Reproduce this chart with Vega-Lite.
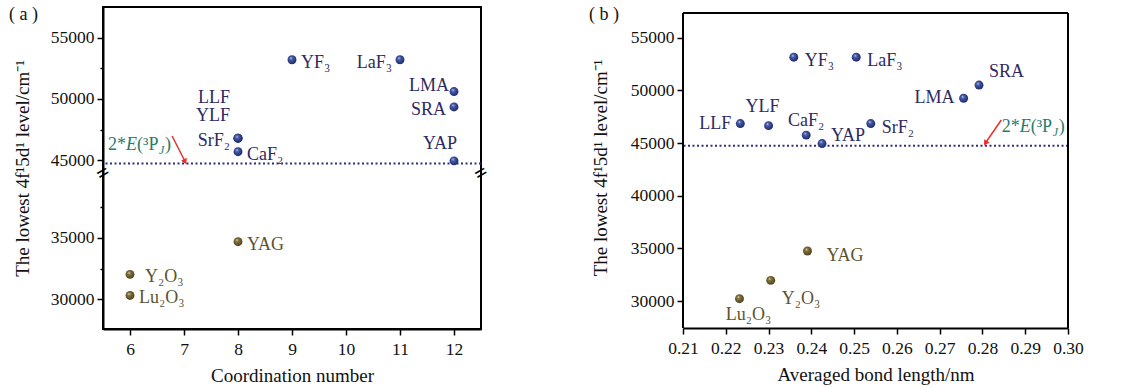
{
  "$schema": "https://vega.github.io/schema/vega-lite/v6.json",
  "padding": {"left": 8, "top": 5, "right": 5, "bottom": 3},
  "background": "white",
  "config": {
    "font": "Liberation Serif",
    "view": {"stroke": "black", "strokeWidth": 2},
    "axis": {"domainColor": "black", "domainWidth": 2, "tickColor": "black", "tickWidth": 1.5, "labelFont": "Liberation Serif", "labelFontSize": 17.5, "labelColor": "#111", "titleFont": "Liberation Serif", "titleFontSize": 19, "titleFontWeight": "normal", "titleColor": "#111", "grid": false, "labelPadding": 3, "labelOverlap": false, "labelBound": false, "labelFlush": false},
    "axisX": {"labelPadding": 5},
    "text": {"font": "Liberation Serif", "fontSize": 18}
  },
  "datasets": {
    "a": [
      {"name": "YF₃", "cn": 9, "e": 53200, "grp": "F"},
      {"name": "LaF₃", "cn": 11, "e": 53200, "grp": "F"},
      {"name": "LMA", "cn": 12, "e": 50600, "grp": "F"},
      {"name": "SRA", "cn": 12, "e": 49350, "grp": "F"},
      {"name": "YAP", "cn": 12, "e": 44950, "grp": "F"},
      {"name": "LLF", "cn": 8, "e": 46800, "grp": "F"},
      {"name": "YLF", "cn": 8, "e": 46800, "grp": "F"},
      {"name": "SrF₂", "cn": 8, "e": 46800, "grp": "F"},
      {"name": "CaF₂", "cn": 8, "e": 45700, "grp": "F"},
      {"name": "YAG", "cn": 8, "e": 34680, "grp": "O"},
      {"name": "Y₂O₃", "cn": 6, "e": 32030, "grp": "O"},
      {"name": "Lu₂O₃", "cn": 6, "e": 30320, "grp": "O"}
    ],
    "b": [
      {"name": "YF₃", "bl": 0.2359, "e": 53150, "grp": "F"},
      {"name": "LaF₃", "bl": 0.2505, "e": 53150, "grp": "F"},
      {"name": "SRA", "bl": 0.2792, "e": 50500, "grp": "F"},
      {"name": "LMA", "bl": 0.2756, "e": 49250, "grp": "F"},
      {"name": "LLF", "bl": 0.2234, "e": 46850, "grp": "F"},
      {"name": "YLF", "bl": 0.23, "e": 46650, "grp": "F"},
      {"name": "CaF₂", "bl": 0.2388, "e": 45750, "grp": "F"},
      {"name": "YAP", "bl": 0.2425, "e": 44950, "grp": "F"},
      {"name": "SrF₂", "bl": 0.2539, "e": 46850, "grp": "F"},
      {"name": "YAG", "bl": 0.2391, "e": 34750, "grp": "O"},
      {"name": "Y₂O₃", "bl": 0.2305, "e": 31960, "grp": "O"},
      {"name": "Lu₂O₃", "bl": 0.2232, "e": 30220, "grp": "O"}
    ]
  },
  "spacing": 96,
  "hconcat": [
    {
      "width": 378,
      "height": 322,
      "layer": [
        {"data": {"values": [{}]}, "mark": {"type": "rule", "color": "#2b2f7e", "strokeWidth": 2, "strokeDash": [2, 2.5]}, "encoding": {"y": {"datum": 44740, "type": "quantitative"}}},
        {
          "data": {"name": "a"},
          "encoding": {
            "x": {"field": "cn", "type": "quantitative", "scale": {"domain": [5.5, 12.5], "nice": false, "zero": false},
              "axis": {"values": [6, 7, 8, 9, 10, 11, 12], "format": "d", "tickSize": 6, "title": "Coordination number", "titlePadding": 9}},
            "y": {"field": "e", "type": "quantitative", "scale": {"domain": [27600, 40250, 43960, 57500], "range": [322, 166, 166, 0], "nice": false, "zero": false},
              "axis": {"values": [30000, 32500, 35000, 37500, 45000, 47500, 50000, 52500, 55000], "format": "d", "labelExpr": "datum.value % 5000 === 0 ? datum.label : ''", "tickSize": {"condition": {"test": "datum.value % 5000 !== 0", "value": 3}, "value": 6}, "title": "The lowest 4f¹5d¹ level/cm⁻¹", "titlePadding": 18}}
          },
          "layer": [
            {"transform": [{"filter": "datum.grp === 'F'"}], "mark": {"type": "point", "filled": true, "size": 80, "opacity": 1, "color": {"gradient": "radial", "x1": 0.38, "y1": 0.32, "r1": 0, "x2": 0.45, "y2": 0.45, "r2": 0.6, "stops": [{"offset": 0, "color": "#e8ecff"}, {"offset": 0.25, "color": "#4a60b0"}, {"offset": 1, "color": "#1a2462"}]}}},
            {"transform": [{"filter": "datum.grp === 'O'"}], "mark": {"type": "point", "filled": true, "size": 80, "opacity": 1, "color": {"gradient": "radial", "x1": 0.38, "y1": 0.32, "r1": 0, "x2": 0.45, "y2": 0.45, "r2": 0.6, "stops": [{"offset": 0, "color": "#f4efd8"}, {"offset": 0.25, "color": "#857540"}, {"offset": 1, "color": "#4a3e18"}]}}},
            {
              "encoding": {"text": {"field": "name"}, "color": {"field": "grp", "type": "nominal", "scale": {"domain": ["F", "O"], "range": ["#2e2a60", "#5c5430"]}, "legend": null}},
              "layer": [
                {"transform": [{"filter": {"field": "name", "oneOf": ["YF₃", "CaF₂", "YAG", "Lu₂O₃"]}}], "mark": {"type": "text", "align": "left", "baseline": "middle", "dx": 9, "dy": 3}},
                {"transform": [{"filter": {"field": "name", "equal": "Y₂O₃"}}], "mark": {"type": "text", "align": "left", "baseline": "middle", "dx": 15, "dy": 3}},
                {"transform": [{"filter": {"field": "name", "oneOf": ["LaF₃", "SrF₂", "SRA"]}}], "mark": {"type": "text", "align": "right", "baseline": "middle", "dx": -8, "dy": 3}},
                {"transform": [{"filter": {"field": "name", "equal": "LMA"}}], "mark": {"type": "text", "align": "right", "baseline": "middle", "dx": -5, "dy": -6}},
                {"transform": [{"filter": {"field": "name", "equal": "LLF"}}], "mark": {"type": "text", "align": "right", "baseline": "middle", "dx": -8, "dy": -40}},
                {"transform": [{"filter": {"field": "name", "equal": "YLF"}}], "mark": {"type": "text", "align": "right", "baseline": "middle", "dx": -8, "dy": -22}},
                {"transform": [{"filter": {"field": "name", "equal": "YAP"}}], "mark": {"type": "text", "align": "right", "baseline": "middle", "dx": 3, "dy": -17}}
              ]
            }
          ]
        },
        {"data": {"values": [{}]}, "mark": {"type": "rule", "color": "#e8302a", "strokeWidth": 1.5}, "encoding": {"x": {"datum": 6.78}, "y": {"datum": 46980}, "x2": {"datum": 7.02}, "y2": {"datum": 44900}}},
        {"data": {"values": [{}]}, "mark": {"type": "point", "shape": "triangle-down", "filled": true, "color": "#e8302a", "size": 40, "opacity": 1, "angle": 334}, "encoding": {"x": {"datum": 7.02}, "y": {"datum": 44880}}},
        {"data": {"values": [{}]}, "mark": {"type": "text", "text": "2*", "align": "left", "baseline": "alphabetic", "color": "#1f7d6e"}, "encoding": {"x": {"datum": 5.593}, "y": {"datum": 45840}}},
        {"data": {"values": [{}]}, "mark": {"type": "text", "text": "E", "fontStyle": "italic", "align": "left", "baseline": "alphabetic", "color": "#1f7d6e", "dx": 18}, "encoding": {"x": {"datum": 5.593}, "y": {"datum": 45840}}},
        {"data": {"values": [{}]}, "mark": {"type": "text", "text": "(³P", "align": "left", "baseline": "alphabetic", "color": "#1f7d6e", "dx": 29}, "encoding": {"x": {"datum": 5.593}, "y": {"datum": 45840}}},
        {"data": {"values": [{}]}, "mark": {"type": "text", "text": "J", "fontStyle": "italic", "fontSize": 12, "align": "left", "baseline": "alphabetic", "color": "#1f7d6e", "dx": 51, "dy": 4}, "encoding": {"x": {"datum": 5.593}, "y": {"datum": 45840}}},
        {"data": {"values": [{}]}, "mark": {"type": "text", "text": ")", "align": "left", "baseline": "alphabetic", "color": "#1f7d6e", "dx": 57}, "encoding": {"x": {"datum": 5.593}, "y": {"datum": 45840}}},
        {"data": {"values": [{}]}, "mark": {"type": "text", "text": "=", "fontSize": 22, "fontWeight": "bold", "angle": 330, "align": "center", "baseline": "middle", "color": "black"}, "encoding": {"x": {"datum": 5.5}, "y": {"datum": 42000}}},
        {"data": {"values": [{}]}, "mark": {"type": "text", "text": "=", "fontSize": 22, "fontWeight": "bold", "angle": 330, "align": "center", "baseline": "middle", "color": "black"}, "encoding": {"x": {"datum": 12.5}, "y": {"datum": 42000}}},
        {"data": {"values": [{}]}, "mark": {"type": "text", "text": "( a )", "align": "left", "baseline": "middle", "color": "#111", "dx": -94, "dy": 8}, "encoding": {"x": {"datum": 5.5}, "y": {"datum": 57500}}}
      ]
    },
    {
      "width": 385,
      "height": 321,
      "view": {"stroke": null},
      "layer": [
        {"data": {"values": [{}]}, "mark": {"type": "rule", "color": "#2b2f7e", "strokeWidth": 2, "strokeDash": [2, 2.5]}, "encoding": {"y": {"datum": 44740, "type": "quantitative"}}},
        {"data": {"values": [{}]}, "mark": {"type": "rule", "color": "black", "strokeWidth": 2}, "encoding": {"x": {"datum": 0.21}, "x2": {"datum": 0.3}, "y": {"datum": 57345}}},
        {"data": {"values": [{}]}, "mark": {"type": "rule", "color": "black", "strokeWidth": 2}, "encoding": {"x": {"datum": 0.21}, "y": {"datum": 27437}, "y2": {"datum": 57345}}},
        {"data": {"values": [{}]}, "mark": {"type": "rule", "color": "black", "strokeWidth": 2}, "encoding": {"x": {"datum": 0.3}, "y": {"datum": 27437}, "y2": {"datum": 57345}}},
        {
          "data": {"name": "b"},
          "encoding": {
            "x": {"field": "bl", "type": "quantitative", "scale": {"domain": [0.21, 0.3], "nice": false, "zero": false},
              "axis": {"values": [0.21, 0.215, 0.22, 0.225, 0.23, 0.235, 0.24, 0.245, 0.25, 0.255, 0.26, 0.265, 0.27, 0.275, 0.28, 0.285, 0.29, 0.295, 0.3], "labelExpr": "round(datum.value*1000) % 10 === 0 ? format(datum.value, '.2f') : ''", "tickSize": {"condition": {"test": "round(datum.value*1000) % 10 !== 0", "value": 3}, "value": 6}, "title": "Averaged bond length/nm", "titlePadding": 9}},
            "y": {"field": "e", "type": "quantitative", "scale": {"domain": [27437, 57915], "nice": false, "zero": false},
              "axis": {"domain": false, "values": [30000, 32500, 35000, 37500, 40000, 42500, 45000, 47500, 50000, 52500, 55000], "format": "d", "labelExpr": "datum.value % 5000 === 0 ? datum.label : ''", "tickSize": {"condition": {"test": "datum.value % 5000 !== 0", "value": 3}, "value": 6}, "title": "The lowest 4f¹5d¹ level/cm⁻¹", "titlePadding": 20}}
          },
          "layer": [
            {"transform": [{"filter": "datum.grp === 'F'"}], "mark": {"type": "point", "filled": true, "size": 80, "opacity": 1, "color": {"gradient": "radial", "x1": 0.38, "y1": 0.32, "r1": 0, "x2": 0.45, "y2": 0.45, "r2": 0.6, "stops": [{"offset": 0, "color": "#e8ecff"}, {"offset": 0.25, "color": "#4a60b0"}, {"offset": 1, "color": "#1a2462"}]}}},
            {"transform": [{"filter": "datum.grp === 'O'"}], "mark": {"type": "point", "filled": true, "size": 80, "opacity": 1, "color": {"gradient": "radial", "x1": 0.38, "y1": 0.32, "r1": 0, "x2": 0.45, "y2": 0.45, "r2": 0.6, "stops": [{"offset": 0, "color": "#f4efd8"}, {"offset": 0.25, "color": "#857540"}, {"offset": 1, "color": "#4a3e18"}]}}},
            {
              "encoding": {"text": {"field": "name"}, "color": {"field": "grp", "type": "nominal", "scale": {"domain": ["F", "O"], "range": ["#2e2a60", "#5c5430"]}, "legend": null}},
              "layer": [
                {"transform": [{"filter": {"field": "name", "oneOf": ["YF₃", "LaF₃", "SrF₂"]}}], "mark": {"type": "text", "align": "left", "baseline": "middle", "dx": 11, "dy": 4}},
                {"transform": [{"filter": {"field": "name", "equal": "YAP"}}], "mark": {"type": "text", "align": "left", "baseline": "middle", "dx": 9, "dy": -8}},
                {"transform": [{"filter": {"field": "name", "equal": "SRA"}}], "mark": {"type": "text", "align": "left", "baseline": "middle", "dx": 10, "dy": -13}},
                {"transform": [{"filter": {"field": "name", "oneOf": ["LMA", "LLF"]}}], "mark": {"type": "text", "align": "right", "baseline": "middle", "dx": -9, "dy": 0}},
                {"transform": [{"filter": {"field": "name", "equal": "YLF"}}], "mark": {"type": "text", "align": "center", "baseline": "middle", "dx": -6, "dy": -19}},
                {"transform": [{"filter": {"field": "name", "equal": "CaF₂"}}], "mark": {"type": "text", "align": "center", "baseline": "middle", "dx": 0, "dy": -14}},
                {"transform": [{"filter": {"field": "name", "equal": "YAG"}}], "mark": {"type": "text", "align": "left", "baseline": "middle", "dx": 19, "dy": 5}},
                {"transform": [{"filter": {"field": "name", "equal": "Y₂O₃"}}], "mark": {"type": "text", "align": "left", "baseline": "middle", "dx": 11, "dy": 19}},
                {"transform": [{"filter": {"field": "name", "equal": "Lu₂O₃"}}], "mark": {"type": "text", "align": "center", "baseline": "middle", "dx": 9, "dy": 16}}
              ]
            }
          ]
        },
        {"data": {"values": [{}]}, "mark": {"type": "rule", "color": "#e8302a", "strokeWidth": 1.5}, "encoding": {"x": {"datum": 0.2844}, "y": {"datum": 47187}, "x2": {"datum": 0.2807}, "y2": {"datum": 45000}}},
        {"data": {"values": [{}]}, "mark": {"type": "point", "shape": "triangle-down", "filled": true, "color": "#e8302a", "size": 40, "opacity": 1, "angle": 31}, "encoding": {"x": {"datum": 0.2807}, "y": {"datum": 44980}}},
        {"data": {"values": [{}]}, "mark": {"type": "text", "text": "2*", "align": "left", "baseline": "alphabetic", "color": "#1f7d6e"}, "encoding": {"x": {"datum": 0.2845}, "y": {"datum": 46047}}},
        {"data": {"values": [{}]}, "mark": {"type": "text", "text": "E", "fontStyle": "italic", "align": "left", "baseline": "alphabetic", "color": "#1f7d6e", "dx": 18}, "encoding": {"x": {"datum": 0.2845}, "y": {"datum": 46047}}},
        {"data": {"values": [{}]}, "mark": {"type": "text", "text": "(³P", "align": "left", "baseline": "alphabetic", "color": "#1f7d6e", "dx": 29}, "encoding": {"x": {"datum": 0.2845}, "y": {"datum": 46047}}},
        {"data": {"values": [{}]}, "mark": {"type": "text", "text": "J", "fontStyle": "italic", "fontSize": 12, "align": "left", "baseline": "alphabetic", "color": "#1f7d6e", "dx": 51, "dy": 4}, "encoding": {"x": {"datum": 0.2845}, "y": {"datum": 46047}}},
        {"data": {"values": [{}]}, "mark": {"type": "text", "text": ")", "align": "left", "baseline": "alphabetic", "color": "#1f7d6e", "dx": 57}, "encoding": {"x": {"datum": 0.2845}, "y": {"datum": 46047}}},
        {"data": {"values": [{}]}, "mark": {"type": "text", "text": "( b )", "align": "left", "baseline": "middle", "color": "#111", "dx": -94, "dy": 8}, "encoding": {"x": {"datum": 0.21}, "y": {"datum": 57915}}}
      ]
    }
  ]
}
